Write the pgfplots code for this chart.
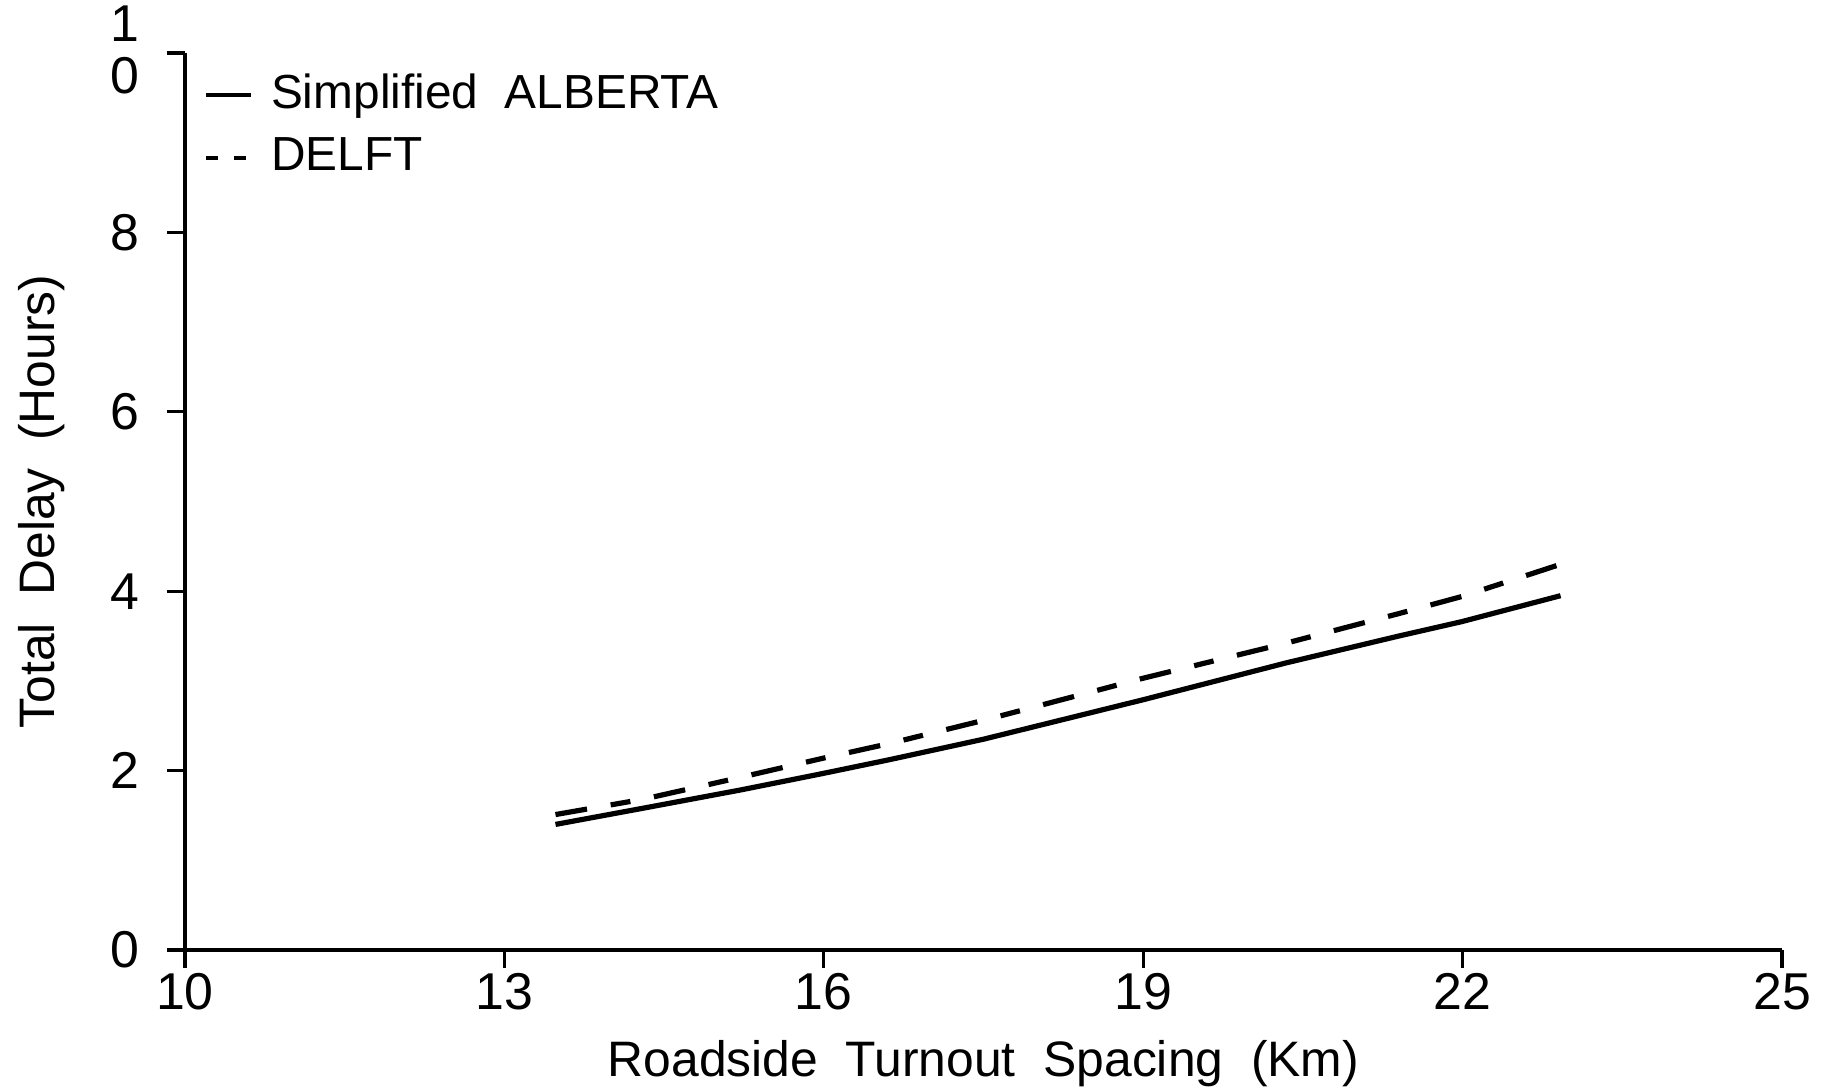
\documentclass[border=0pt]{standalone}
\usepackage{fontspec}
\setmainfont{Liberation Sans}
\usepackage{pgfplots}
\pgfplotsset{compat=1.18}
\begin{document}
\fontsize{12.5}{14}\selectfont
\begin{tikzpicture}
\begin{axis}[
  scale only axis,
  width=399.25bp, height=224.25bp,
  xmin=10, xmax=25, ymin=0, ymax=10,
  axis x line*=bottom, axis y line*=left,
  axis line style={line width=0.9bp},
  xtick={10,13,16,19,22,25},
  ytick={0,2,4,6,8,10},
  yticklabels={0,2,4,6,8,{\raisebox{1.5bp}{\shortstack{1\\[1bp]0}}}},
  tick align=outside,
  major tick length=4.5bp,
  tick style={line width=0.8bp, black},
  /pgf/number format/assume math mode=true,
  ticklabel style={font=\fontsize{13}{14}\selectfont},
  xticklabel style={yshift=3bp},
  yticklabel style={xshift=-2.5bp},
  xlabel={Roadside\ \ Turnout\ \ Spacing\ \ (Km)},
  ylabel={Total\ \ Delay\ \ (Hours)},
  xlabel style={at={(axis description cs:0.5,0)}, anchor=center, yshift=-28.3bp, font=\fontsize{12.5}{14}\selectfont},
  ylabel style={at={(axis description cs:0,0.5)}, anchor=center, yshift=35.8bp, font=\fontsize{12.5}{14}\selectfont},
  legend style={draw=none, fill=none, at={(0,1)}, anchor=north west,
    xshift=1.5bp, yshift=-1bp, font=\fontsize{12}{14}\selectfont,
    row sep=1.5bp, cells={anchor=west}},
  legend image code/.code={\draw[#1, line width=1bp] (0cm,0cm) -- (0.4cm,0cm);},
  clip=false,
]
\addplot[black, line width=1.3bp] coordinates {
  (13.48,1.40) (14.30,1.58) (15.20,1.78) (16.00,1.97) (16.61,2.12)
  (17.50,2.35) (19.00,2.79) (20.34,3.20) (21.40,3.50) (21.99,3.66) (22.92,3.95)
};
\addlegendentry{\hspace{2.5bp}Simplified\ \ ALBERTA}
\addplot[black, line width=1.3bp, dash pattern=on 8bp off 6bp on 5bp off 6bp,
  legend image code/.code={\draw[black, line width=1bp, dash pattern=on 3bp off 4bp] (0cm,0cm) -- (0.4cm,0cm);}] coordinates {
  (13.48,1.51) (14.30,1.68) (15.20,1.92) (16.00,2.14) (16.61,2.30)
  (17.50,2.56) (19.00,3.03) (20.34,3.42) (21.40,3.75) (21.99,3.94) (22.92,4.30)
};
\addlegendentry{\hspace{2.5bp}DELFT}
\end{axis}
\pgfresetboundingbox
\path[use as bounding box] ([xshift=-46.25bp,yshift=-34.75bp]current axis.south west) rectangle ([xshift=12.5bp,yshift=13.25bp]current axis.north east);
\end{tikzpicture}
\end{document}
